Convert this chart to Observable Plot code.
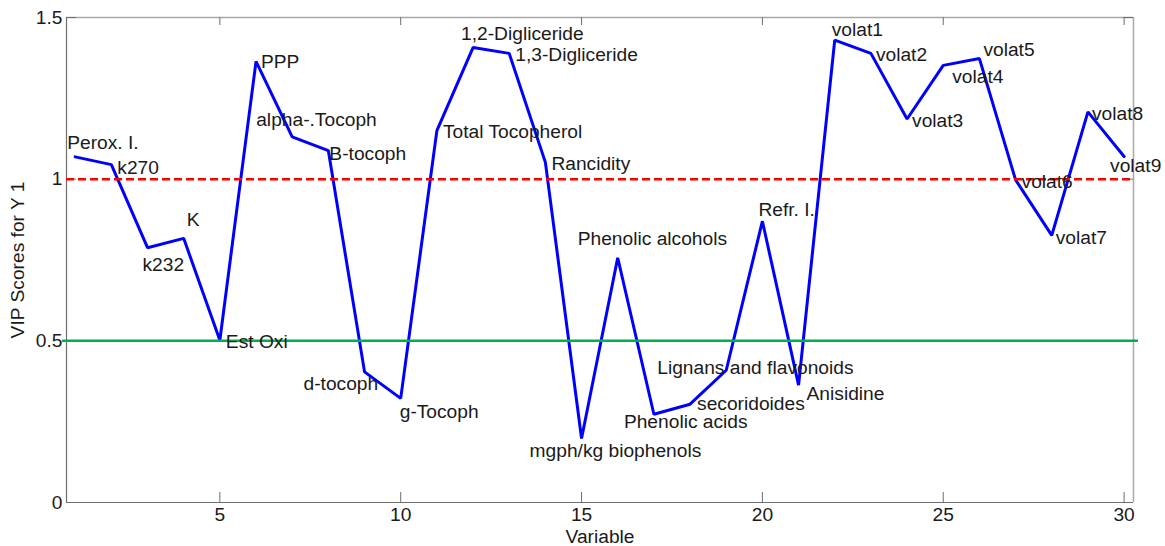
<!DOCTYPE html>
<html>
<head>
<meta charset="utf-8">
<script src="https://cdn.jsdelivr.net/npm/d3@7"></script>
<script src="https://cdn.jsdelivr.net/npm/@observablehq/plot@0.6"></script>
<style>
  html, body { margin: 0; padding: 0; background: #fff; overflow: hidden; }
  #chart svg { display: block; }
</style>
</head>
<body>
<div id="chart"></div>
<script>
// Variable index (x) and VIP score (y) for each of the 30 predictors
const variable = [1, 2, 3, 4, 5, 6, 7, 8, 9, 10, 11, 12, 13, 14, 15,
                  16, 17, 18, 19, 20, 21, 22, 23, 24, 25, 26, 27, 28, 29, 30];
const vip = [1.069, 1.045, 0.788, 0.817, 0.502, 1.364, 1.131, 1.088, 0.404, 0.322,
             1.150, 1.407, 1.389, 1.052, 0.198, 0.757, 0.273, 0.304, 0.409, 0.870,
             0.363, 1.430, 1.389, 1.186, 1.352, 1.373, 0.998, 0.826, 1.208, 1.070];
const names = ["Perox. I.", "k270", "k232", "K", "Est Oxi", "PPP", "alpha-.Tocoph", "B-tocoph",
               "d-tocoph", "g-Tocoph", "Total Tocopherol", "1,2-Digliceride", "1,3-Digliceride",
               "Rancidity", "mgph/kg biophenols", "Phenolic alcohols", "Phenolic acids",
               "secoridoides", "Lignans and flavonoids", "Refr. I.", "Anisidine",
               "volat1", "volat2", "volat3", "volat4", "volat5", "volat6", "volat7", "volat8", "volat9"];

// Reference thresholds
const vipThreshold = 1;
const lowThreshold = 0.5;

// Axis ticks
const xTicks = [5, 10, 15, 20, 25, 30];
const yTicks = [0, 0.5, 1, 1.5];

// Label nudges in pixels (dx, dy) so names sit clear of the line
const nudgeX = [-8, 6, -5, 3, 6, 5, -36, 1, -61, -1, 6, -12, 6, 6, -52, -40, -30, 7, -69, -4, 8, -3, 5, 5, 9, 4, 6, 4, 4, -14];
const nudgeY = [-14, 3, 17, -18, 2, 0, -17, 3, 12, 13, 1, -14, 1, 1, 12, -19, 8, 0, -2, -11, 9, -10, 1, 2, 11, -9, 2, 2, 2, 9];

const rows = variable.map((v, i) => ({variable: v, vip: vip[i], name: names[i], i}));

const W = 1165, H = 546;
const mTop = 17, mBottom = 44, mLeft = 66, mRight = 32;
const frameH = H - mTop - mBottom;
const frameW = W - mLeft - mRight;
const xDomain = [0.76, 30.26];
const yDomain = [0, 1.5];
const tickLen = 10;
const fontSize = 19.2;
const font = "'Liberation Sans', Arial, Helvetica, sans-serif";
const textColor = "#1a1a1a";
const borderDark = "#6e6e6e";
const borderLight = "#a8a8a8";

const labelMarks = rows.map(d =>
  Plot.text([d], {
    x: "variable", y: "vip", text: "name",
    textAnchor: "start", dx: nudgeX[d.i], dy: nudgeY[d.i],
    fill: textColor, fontSize
  })
);

const chart = Plot.plot({
  width: W,
  height: H,
  marginTop: mTop,
  marginBottom: mBottom,
  marginLeft: mLeft,
  marginRight: mRight,
  style: {fontFamily: font, fontSize: `${fontSize}px`, color: textColor, background: "#fff"},
  x: {domain: xDomain, ticks: xTicks},
  y: {domain: yDomain, ticks: yTicks},
  marks: [
    // box: top and right lighter, left and bottom darker
    Plot.ruleY([yDomain[1]], {stroke: borderLight, strokeWidth: 1.5}),
    Plot.ruleX([xDomain[1]], {stroke: borderLight, strokeWidth: 1.5}),
    // inward ticks on every edge
    Plot.tickX(xTicks, {x: d => d, insetTop: frameH - tickLen, stroke: borderDark}),
    Plot.tickX(xTicks, {x: d => d, insetBottom: frameH - tickLen + 2, stroke: borderDark}),
    Plot.tickY(yTicks, {y: d => d, insetRight: frameW - tickLen, stroke: borderDark}),
    Plot.tickY(yTicks, {y: d => d, insetLeft: frameW - tickLen, stroke: borderDark}),
    Plot.ruleY([yDomain[0]], {stroke: borderDark, strokeWidth: 1.2}),
    Plot.ruleX([xDomain[0]], {stroke: borderDark, strokeWidth: 1.2}),
    Plot.axisX({ticks: xTicks, tickSize: 0, tickPadding: 5, label: null, fill: textColor, fontSize}),
    Plot.axisY({ticks: yTicks, tickSize: 0, tickPadding: 4, label: null, fill: textColor, fontSize,
                tickFormat: d => String(d)}),
    // VIP score profile
    Plot.line(rows, {x: "variable", y: "vip", stroke: "#0000ff", strokeWidth: 3, strokeLinejoin: "miter"}),
    // thresholds
    Plot.ruleY([vipThreshold], {stroke: "#ff0000", strokeWidth: 2.5, strokeDasharray: "8,4"}),
    Plot.ruleY([lowThreshold], {stroke: "#00b04f", strokeWidth: 2.5, insetLeft: -4, insetRight: -5}),
    ...labelMarks,
    // axis titles
    Plot.text(["Variable"], {frameAnchor: "bottom", dy: 34, lineAnchor: "middle", textAnchor: "middle",
                             fill: textColor, fontSize}),
    Plot.text(["VIP Scores for Y 1"], {frameAnchor: "left", dx: -49, rotate: -90, lineAnchor: "middle",
                                       textAnchor: "middle", fill: textColor, fontSize})
  ]
});

document.getElementById("chart").appendChild(chart);
</script>
</body>
</html>
